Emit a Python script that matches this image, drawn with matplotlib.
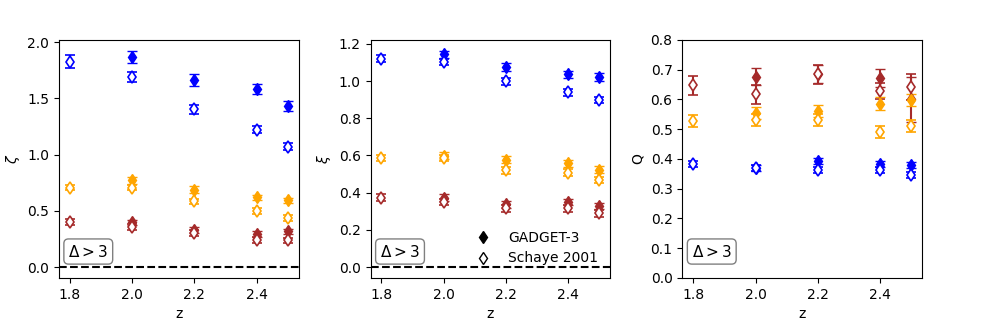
""" Three-panel fit parameters vs redshift. """

import matplotlib
matplotlib.use("Agg")
import matplotlib.pyplot as plt
from matplotlib.lines import Line2D


# redshifts
z_sim = [2.0, 2.2, 2.4, 2.5]
z_obs = [1.8, 2.0, 2.2, 2.4, 2.5]

colors = ["blue", "orange", "brown"]

# zeta
zeta_sim = [[1.872, 1.664, 1.584, 1.432],
            [0.773, 0.690, 0.621, 0.594],
            [0.398, 0.333, 0.297, 0.318]]
zeta_sim_err = [[0.053, 0.050, 0.048, 0.046],
                [0.030, 0.030, 0.025, 0.025],
                [0.025, 0.025, 0.025, 0.025]]
zeta_obs = [[1.828, 1.694, 1.406, 1.224, 1.070],
            [0.707, 0.707, 0.585, 0.500, 0.437],
            [0.404, 0.357, 0.303, 0.244, 0.238]]
zeta_obs_err = [[0.060, 0.046, 0.040, 0.035, 0.030],
                [0.025, 0.025, 0.025, 0.025, 0.025],
                [0.025, 0.025, 0.025, 0.025, 0.025]]

# xi
xi_sim = [[1.143, 1.076, 1.036, 1.022],
          [0.599, 0.578, 0.558, 0.524],
          [0.373, 0.338, 0.350, 0.329]]
xi_sim_err = [[0.020, 0.020, 0.020, 0.020],
              [0.020, 0.020, 0.020, 0.020],
              [0.018, 0.018, 0.018, 0.018]]
xi_obs = [[1.120, 1.102, 0.999, 0.939, 0.898],
          [0.587, 0.587, 0.521, 0.507, 0.468],
          [0.373, 0.350, 0.316, 0.316, 0.290]]
xi_obs_err = [[0.018, 0.018, 0.018, 0.018, 0.018],
              [0.018, 0.018, 0.018, 0.018, 0.018],
              [0.018, 0.018, 0.018, 0.018, 0.018]]

# Q
q_sim = [[0.371, 0.393, 0.382, 0.379],
         [0.553, 0.561, 0.586, 0.598],
         [0.676, 0.685, 0.671, 0.600]]
q_sim_err = [[0.010, 0.010, 0.010, 0.010],
             [0.020, 0.020, 0.022, 0.020],
             [0.028, 0.030, 0.030, 0.075]]
q_obs = [[0.382, 0.371, 0.364, 0.364, 0.345],
         [0.527, 0.530, 0.530, 0.491, 0.510],
         [0.648, 0.617, 0.684, 0.628, 0.642]]
q_obs_err = [[0.010, 0.010, 0.010, 0.010, 0.010],
             [0.020, 0.020, 0.020, 0.020, 0.020],
             [0.032, 0.031, 0.033, 0.027, 0.045]]


fig, axes = plt.subplots(1, 3, figsize=(9.81, 3.27), dpi=100)
fig.subplots_adjust(left=0.06, right=0.94, bottom=0.15, top=0.878, wspace=0.3)

panels = [
    (zeta_sim, zeta_sim_err, zeta_obs, zeta_obs_err, r"$\zeta$"),
    (xi_sim, xi_sim_err, xi_obs, xi_obs_err, r"$\xi$"),
    (q_sim, q_sim_err, q_obs, q_obs_err, "Q"),
]

for i, (ax, (ys, yse, yo, yoe, lab)) in enumerate(zip(axes, panels)):
    # brown first so the lighter colours sit on top where they overlap
    for c, s, se, o, oe in reversed(list(zip(colors, ys, yse, yo, yoe))):
        ax.errorbar(z_sim, s, yerr=se, fmt="d", color=c,
                    ms=6, capsize=3.5)
        ax.errorbar(z_obs, o, yerr=oe, fmt="d", color=c, mfc="white",
                    ms=6, capsize=3.5, mew=1.2)
    if i < 2:
        ax.axhline(0, color="k", ls="--")
    else:
        ax.set_ylim(0, 0.8)
    ax.set_xticks([1.8, 2.0, 2.2, 2.4])
    ax.set_xlabel("z")
    ax.set_ylabel(lab)
    ax.text(0.04, 0.09, r"$\Delta > 3$", transform=ax.transAxes, fontsize=11,
            bbox=dict(boxstyle="round", facecolor="white", edgecolor="gray"))

handles = [Line2D([], [], ls="none", marker="d", color="k", ms=6),
           Line2D([], [], ls="none", marker="d", color="k", mfc="white", ms=6)]
axes[1].legend(handles, ["GADGET-3", "Schaye 2001"], loc="lower right",
               frameon=False, fontsize=10)

plt.savefig("out.png", dpi=100)
